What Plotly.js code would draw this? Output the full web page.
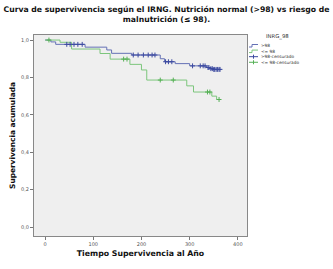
<!DOCTYPE html>
<html>
<head>
<meta charset="utf-8">
<script src="https://cdn.plot.ly/plotly-3.0.1.min.js"></script>
<style>html,body{margin:0;padding:0;background:#fff;}#chart{width:333px;height:269px;}</style>
</head>
<body>
<div id="chart"></div>
<script>
// Kaplan-Meier step points: group ">98"
const blueTimes = [0, 12, 22, 83, 128, 138, 180, 239, 248, 270, 300, 335, 342, 350];
const blueSurv  = [1.0, 0.99, 0.977, 0.962, 0.947, 0.929, 0.92, 0.9, 0.884, 0.874, 0.862, 0.853, 0.847, 0.843];
const blueEnd = 363;
const blueCensored = [45, 52, 60, 68, 77, 183, 193, 204, 214, 222, 228, 250, 256, 263, 306, 322, 328, 332, 338, 340, 344, 347, 350, 352, 355, 358, 361, 363];

// group "<= 98"
const greenTimes = [0, 31, 55, 114, 135, 176, 200, 211, 294, 308, 346, 356];
const greenSurv  = [1.0, 0.988, 0.952, 0.928, 0.898, 0.87, 0.84, 0.786, 0.755, 0.722, 0.7, 0.682];
const greenEnd = 361;
const greenCensored = [8, 163, 170, 239, 266, 337, 342, 361];

const xTicks = [0, 100, 200, 300, 400];
const yTicks = [0, 0.2, 0.4, 0.6, 0.8, 1.0];
const legendLabels = [">98", "<= 98", ">98-censurado", "<= 98-censurado"];
const legendTitle = "INRG_98";

const blueLine = '#6471b5', blueMark = '#3c4aa0';
const greenLine = '#7cc67c', greenMark = '#55b055';

function survAt(times, surv, t) {
  let s = surv[0];
  for (let i = 0; i < times.length; i++) { if (times[i] <= t) s = surv[i]; }
  return s;
}

const traces = [
  {x: blueTimes.concat([blueEnd]), y: blueSurv.concat([blueSurv[blueSurv.length-1]]),
   mode: 'lines', line: {shape: 'hv', color: blueLine, width: 1}, hoverinfo: 'skip'},
  {x: greenTimes.concat([greenEnd]), y: greenSurv.concat([greenSurv[greenSurv.length-1]]),
   mode: 'lines', line: {shape: 'hv', color: greenLine, width: 1}, hoverinfo: 'skip'},
  {x: blueCensored, y: blueCensored.map(t => survAt(blueTimes, blueSurv, t)),
   mode: 'markers', marker: {symbol: 'cross-thin', size: 3.5, line: {width: 1, color: blueMark}, color: blueMark}},
  {x: greenCensored, y: greenCensored.map(t => survAt(greenTimes, greenSurv, t)),
   mode: 'markers', marker: {symbol: 'cross-thin', size: 3.5, line: {width: 1, color: greenMark}, color: greenMark}}
];

const fontFam = '"DejaVu Sans", sans-serif';

// manual legend; positions in figure px converted to plot-area paper coords
const W = 333, H = 269;
const M = {l: 34, r: 86, t: 35, b: 33};
const PW = W - M.l - M.r, PH = H - M.t - M.b;
const px = v => (v - M.l) / PW, py = v => (H - M.b - v) / PH;
const legFont = 4.3, rowStep = legFont * 1.3, row0 = 45.5;
const rowsY = legendLabels.map((_, i) => row0 + i * rowStep);
const shapes = [];
const annotations = [];
annotations.push({xref: 'paper', yref: 'paper', x: px(265), y: py(37), xanchor: 'left', yanchor: 'middle',
  text: legendTitle, showarrow: false, borderpad: 0, font: {family: fontFam, size: 5.3, color: '#333'}});
const symColors = [blueLine, greenLine, blueMark, greenMark];
rowsY.forEach((yy, i) => {
  if (i < 2) {
    shapes.push({type: 'path', xref: 'paper', yref: 'paper',
      path: `M ${px(249)} ${py(yy+1.5)} L ${px(252)} ${py(yy+1.5)} L ${px(252)} ${py(yy-1)} L ${px(258)} ${py(yy-1)}`,
      line: {color: symColors[i], width: 1}});
  } else {
    shapes.push({type: 'line', xref: 'paper', yref: 'paper', x0: px(249), x1: px(258), y0: py(yy), y1: py(yy), line: {color: symColors[i], width: 1}});
    shapes.push({type: 'line', xref: 'paper', yref: 'paper', x0: px(253.5), x1: px(253.5), y0: py(yy-2), y1: py(yy+2), line: {color: symColors[i], width: 1}});
  }
});
annotations.push({xref: 'paper', yref: 'paper', x: px(259.5), y: py((rowsY[0] + rowsY[3]) / 2), xanchor: 'left', yanchor: 'middle', align: 'left',
  text: legendLabels.map(s => s.replace(/</g, '&lt;').replace(/>/g, '&gt;')).join('<br>'), showarrow: false, borderpad: 0,
  font: {family: fontFam, size: legFont, color: '#333'}});

const layout = {
  width: W, height: H,
  margin: {l: M.l, r: M.r, t: M.t, b: M.b, pad: 0},
  paper_bgcolor: '#ffffff', plot_bgcolor: '#efefef',
  showlegend: false,
  title: {text: '<b>Curva de supervivencia según el IRNG. Nutrición normal (&gt;98) vs riesgo de<br>malnutrición (≤ 98).</b>',
    font: {family: fontFam, size: 7.7, color: '#111'}, x: 0.5, xanchor: 'center', xref: 'container', y: 1 - 12/H, yanchor: 'middle'},
  xaxis: {range: [-23, 419], tickvals: xTicks, ticktext: xTicks.map(String), ticks: 'outside', ticklen: 3, tickcolor: '#777',
    showgrid: false, zeroline: false, showline: true, linecolor: '#888', linewidth: 1, mirror: true,
    tickfont: {family: fontFam, size: 5, color: '#555'},
    title: {text: '<b>Tiempo Supervivencia al Año</b>', font: {family: fontFam, size: 7.8, color: '#111'}, standoff: 4}},
  yaxis: {range: [-0.048, 1.027], tickvals: yTicks, ticktext: yTicks.map(v => v.toFixed(1).replace('.', ',')),
    ticks: 'outside', ticklen: 3, tickcolor: '#777',
    showgrid: false, zeroline: false, showline: true, linecolor: '#888', linewidth: 1, mirror: true,
    tickfont: {family: fontFam, size: 5, color: '#555'},
    title: {text: '<b>Supervivencia acumulada</b>', font: {family: fontFam, size: 7.4, color: '#111'}, standoff: 4}},
  shapes: shapes,
  annotations: annotations
};

Plotly.newPlot('chart', traces, layout, {staticPlot: true, displayModeBar: false});
</script>
</body>
</html>
